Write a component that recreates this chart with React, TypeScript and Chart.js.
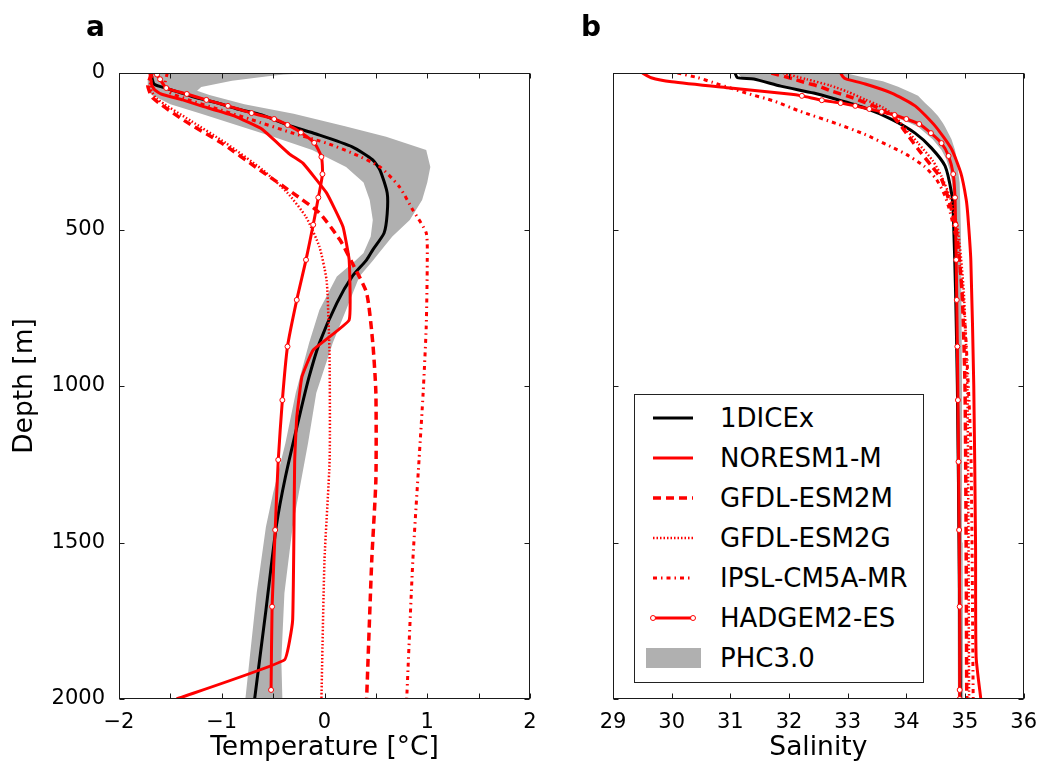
import React, { useEffect, useRef } from 'react';
import { Chart, registerables } from 'chart.js';

Chart.register(...registerables);
Chart.defaults.font.family = "'DejaVu Sans', sans-serif";
Chart.defaults.color = '#000';

// ---------------- Panel a: temperature ----------------
const TEMP_TICKS = [-2, -1, 0, 1, 2];
const TEMP_TICK_MARKS = [-2, -1.5, -1, -0.5, 0, 0.5, 1, 1.5, 2];
const DEPTH_TICKS = [0, 500, 1000, 1500, 2000];
const SAL_TICKS = [29, 30, 31, 32, 33, 34, 35, 36];

const PHC_T_DEPTH = [0, 5, 10, 25, 45, 57, 70, 100, 130, 170, 204, 246, 300, 350, 406, 470, 522, 575, 600, 650, 757, 863, 1022, 1182, 1342, 1450, 1661, 1875, 2000];
const PHC_T_MIN = [-1.7, -1.7, -1.71, -1.72, -1.72, -1.72, -1.68, -1.5, -1.2, -0.82, -0.5, -0.12, 0.21, 0.38, 0.44, 0.47, 0.45, 0.38, 0.3, 0.12, -0.05, -0.15, -0.28, -0.38, -0.5, -0.57, -0.66, -0.73, -0.77];
const PHC_T_MAX = [-0.1, -0.4, -0.55, -0.9, -1.2, -1.24, -1.12, -0.78, -0.3, 0.2, 0.6, 0.99, 1.03, 1.0, 0.95, 0.83, 0.66, 0.53, 0.47, 0.34, 0.21, 0.08, -0.08, -0.16, -0.25, -0.31, -0.39, -0.42, -0.41];

const DICE_T_DEPTH = [0, 35, 45, 57, 77, 96, 115, 134, 166, 195, 236, 278, 310, 383, 450, 511, 565, 597, 650, 735, 863, 971, 1077, 1290, 1450, 1716, 2000];
const DICE_T = [-1.69, -1.66, -1.58, -1.46, -1.27, -1.04, -0.85, -0.61, -0.36, -0.08, 0.27, 0.47, 0.54, 0.61, 0.61, 0.58, 0.47, 0.41, 0.27, 0.12, -0.05, -0.15, -0.23, -0.38, -0.47, -0.57, -0.68];

const NORESM_T_DEPTH = [0, 40, 55, 67, 86, 105, 137, 179, 259, 288, 383, 491, 597, 789, 885, 971, 1100, 1236, 1748, 1875, 2000];
const NORESM_T = [-1.7, -1.68, -1.65, -1.59, -1.38, -1.2, -0.88, -0.61, -0.34, -0.21, 0.02, 0.18, 0.24, 0.24, -0.11, -0.22, -0.27, -0.29, -0.31, -0.39, -1.44];

const ESM2M_T_DEPTH = [0, 40, 80, 153, 224, 310, 383, 447, 533, 607, 703, 863, 1022, 1300, 1556, 2000];
const ESM2M_T = [-1.68, -1.72, -1.67, -1.36, -1.0, -0.63, -0.31, -0.05, 0.15, 0.27, 0.41, 0.47, 0.5, 0.5, 0.46, 0.41];

const ESM2G_T_DEPTH = [0, 40, 80, 153, 224, 310, 383, 460, 555, 661, 800, 917, 1236, 1556, 2000];
const ESM2G_T = [-1.66, -1.7, -1.64, -1.3, -0.96, -0.6, -0.36, -0.18, -0.05, 0.02, 0.04, 0.05, 0.05, 0.0, -0.03];

const IPSL_T_DEPTH = [0, 30, 60, 85, 115, 147, 193, 224, 256, 300, 364, 438, 511, 600, 811, 1022, 1236, 1556, 2000];
const IPSL_T = [-1.53, -1.55, -1.52, -1.33, -1.04, -0.73, -0.3, 0.02, 0.27, 0.54, 0.73, 0.86, 0.99, 1.0, 0.99, 0.96, 0.92, 0.86, 0.8];

const HADGEM_T_DEPTH = [5, 20, 48, 67, 86, 105, 128, 147, 166, 190, 223, 268, 323, 398, 485, 597, 725, 874, 1045, 1236, 1460, 1705, 1971];
const HADGEM_T = [-1.63, -1.6, -1.54, -1.34, -1.15, -0.94, -0.71, -0.49, -0.36, -0.23, -0.1, -0.03, -0.02, -0.06, -0.11, -0.18, -0.27, -0.36, -0.41, -0.45, -0.48, -0.51, -0.52];

// ---------------- Panel b: salinity ----------------
const PHC_S_DEPTH = [0, 15, 26, 44, 64, 73, 96, 115, 137, 159, 172, 212, 246, 275, 310, 351, 500, 1000, 1500, 2000];
const PHC_S_MIN = [31.12, 31.2, 31.6, 31.95, 32.45, 32.6, 33.05, 33.4, 33.75, 34.05, 34.2, 34.45, 34.6, 34.68, 34.74, 34.78, 34.82, 34.85, 34.87, 34.88];
const PHC_S_MAX = [32.95, 33.3, 33.6, 33.86, 34.1, 34.2, 34.32, 34.43, 34.54, 34.62, 34.66, 34.77, 34.83, 34.86, 34.88, 34.91, 34.93, 34.95, 34.96, 34.97];

const DICE_S_DEPTH = [0, 15, 19, 42, 64, 80, 112, 148, 192, 240, 297, 383, 447, 700, 1000, 1500, 2000];
const DICE_S = [31.08, 31.12, 31.4, 31.86, 32.42, 32.73, 33.3, 33.75, 34.15, 34.43, 34.66, 34.77, 34.8, 34.84, 34.87, 34.9, 34.92];

const NORESM_S_DEPTH = [0, 12, 19, 35, 64, 105, 169, 243, 320, 403, 457, 600, 1000, 1500, 1865, 2000];
const NORESM_S = [32.88, 32.92, 32.97, 33.3, 33.75, 34.15, 34.49, 34.77, 34.93, 35.02, 35.05, 35.1, 35.15, 35.18, 35.19, 35.27];

const ESM2M_S_DEPTH = [0, 19, 32, 42, 58, 80, 110, 140, 192, 243, 297, 339, 403, 500, 700, 1000, 1500, 2000];
const ESM2M_S = [31.7, 32.08, 32.3, 32.5, 32.73, 33.1, 33.5, 33.78, 34.0, 34.2, 34.43, 34.6, 34.72, 34.85, 34.95, 35.0, 35.02, 35.03];

const ESM2G_S_DEPTH = [0, 20, 40, 60, 85, 110, 137, 170, 224, 280, 330, 400, 500, 700, 1000, 1500, 2000];
const ESM2G_S = [31.9, 32.3, 32.7, 33.0, 33.3, 33.6, 33.8, 33.95, 34.2, 34.45, 34.6, 34.75, 34.88, 34.98, 35.04, 35.06, 35.07];

const IPSL_S_DEPTH = [0, 15, 30, 48, 64, 90, 121, 163, 195, 240, 260, 297, 339, 393, 447, 550, 800, 1200, 2000];
const IPSL_S = [30.1, 30.45, 30.7, 31.0, 31.27, 31.75, 32.17, 32.83, 33.28, 33.79, 34.0, 34.3, 34.51, 34.66, 34.75, 34.87, 35.0, 35.1, 35.14];

const HADGEM_S_DEPTH = [0, 15, 28, 48, 67, 73, 87, 96, 105, 115, 124, 134, 147, 163, 192, 224, 265, 323, 398, 485, 597, 725, 874, 1045, 1242, 1460, 1705, 1971, 2000];
const HADGEM_S = [29.5, 29.65, 30.0, 31.0, 32.0, 32.22, 32.56, 32.88, 33.13, 33.37, 33.58, 33.8, 34.0, 34.22, 34.42, 34.6, 34.72, 34.8, 34.83, 34.84, 34.85, 34.86, 34.87, 34.88, 34.89, 34.9, 34.91, 34.91, 34.91];

const LABELS = ['1DICEx', 'NORESM1-M', 'GFDL-ESM2M', 'GFDL-ESM2G', 'IPSL-CM5A-MR', 'HADGEM2-ES', 'PHC3.0'];

// ---------------- styles ----------------
const RED = '#ff0000';
const GRAY = '#b0b0b0';
const STYLES: Record<string, { color: string; width: number; dash: number[] }> = {
  '1DICEx': { color: '#000000', width: 3, dash: [] },
  'NORESM1-M': { color: RED, width: 3, dash: [] },
  'GFDL-ESM2M': { color: RED, width: 3.5, dash: [8, 5] },
  'GFDL-ESM2G': { color: RED, width: 2.5, dash: [1.5, 2] },
  'IPSL-CM5A-MR': { color: RED, width: 3, dash: [4, 4, 1.5, 4] },
  'HADGEM2-ES': { color: RED, width: 3, dash: [] },
};

const pts = (vals: number[], depths: number[]) => vals.map((v, i) => ({ x: v, y: depths[i] }));
const band = (depths: number[], lo: number[], hi: number[]) => [
  ...pts(lo, depths),
  ...pts(hi, depths).reverse(),
];

const fmt = (v: number) => (v < 0 ? '\u2212' + Math.abs(v) : String(v));

const framePlugin = {
  id: 'frame',
  afterDatasetsDraw(chart: any, _args: any, opts: any) {
    const { ctx, chartArea: a, scales } = chart;
    ctx.save();
    ctx.strokeStyle = '#1a1a1a';
    ctx.lineWidth = 1;
    const L = Math.round(a.left) + 0.5;
    const R = Math.round(a.right) - 0.5;
    const T = Math.round(a.top) + 0.5;
    const B = Math.round(a.bottom) - 0.5;
    ctx.strokeRect(L, T, R - L, B - T);
    const len = 5;
    ctx.beginPath();
    for (const v of opts.xTicks || []) {
      const px = Math.round(scales.x.getPixelForValue(v)) + 0.5;
      ctx.moveTo(px, T);
      ctx.lineTo(px, T + len);
      ctx.moveTo(px, B);
      ctx.lineTo(px, B - len);
    }
    for (const v of opts.yTicks || []) {
      const py = Math.round(scales.y.getPixelForValue(v)) + 0.5;
      ctx.moveTo(L, py);
      ctx.lineTo(L + len, py);
      ctx.moveTo(R, py);
      ctx.lineTo(R - len, py);
    }
    ctx.stroke();
    ctx.restore();
  },
};

function lineDs(label: string, data: any[], order: number, extra: any = {}) {
  const s = STYLES[label];
  return {
    label,
    data,
    borderColor: s.color,
    backgroundColor: s.color,
    borderWidth: s.width,
    borderDash: s.dash,
    pointRadius: 0,
    tension: 0.2,
    fill: false,
    order,
    ...extra,
  };
}

function makeConfig(panel: 'a' | 'b') {
  const isA = panel === 'a';
  const datasets = isA
    ? [
        { label: 'PHC3.0', data: band(PHC_T_DEPTH, PHC_T_MIN, PHC_T_MAX), borderWidth: 0, borderColor: GRAY, backgroundColor: GRAY, fill: 'shape', pointRadius: 0, tension: 0, order: 20 },
        lineDs('1DICEx', pts(DICE_T, DICE_T_DEPTH), 10),
        lineDs('NORESM1-M', pts(NORESM_T, NORESM_T_DEPTH), 8, { tension: 0.1 }),
        lineDs('GFDL-ESM2M', pts(ESM2M_T, ESM2M_T_DEPTH), 7),
        lineDs('GFDL-ESM2G', pts(ESM2G_T, ESM2G_T_DEPTH), 6),
        lineDs('IPSL-CM5A-MR', pts(IPSL_T, IPSL_T_DEPTH), 5),
        lineDs('HADGEM2-ES', pts(HADGEM_T, HADGEM_T_DEPTH), 4, {
          pointRadius: 2.5, pointBackgroundColor: '#ffffff', pointBorderColor: RED, pointBorderWidth: 1,
        }),
      ]
    : [
        { label: 'PHC3.0', data: band(PHC_S_DEPTH, PHC_S_MIN, PHC_S_MAX), borderWidth: 0, borderColor: GRAY, backgroundColor: GRAY, fill: 'shape', pointRadius: 0, tension: 0, order: 20 },
        lineDs('1DICEx', pts(DICE_S, DICE_S_DEPTH), 10),
        lineDs('NORESM1-M', pts(NORESM_S, NORESM_S_DEPTH), 8),
        lineDs('GFDL-ESM2M', pts(ESM2M_S, ESM2M_S_DEPTH), 7),
        lineDs('GFDL-ESM2G', pts(ESM2G_S, ESM2G_S_DEPTH), 6),
        lineDs('IPSL-CM5A-MR', pts(IPSL_S, IPSL_S_DEPTH), 5),
        lineDs('HADGEM2-ES', pts(HADGEM_S, HADGEM_S_DEPTH), 4, {
          pointRadius: (c: any) => (HADGEM_S_DEPTH[c.dataIndex] >= 70 ? 2.5 : 0),
          pointBackgroundColor: '#ffffff', pointBorderColor: RED, pointBorderWidth: 1,
        }),
      ];

  const xTicks = isA ? TEMP_TICKS : SAL_TICKS;
  return {
    type: 'line',
    data: { datasets },
    plugins: [framePlugin],
    options: {
      animation: false,
      responsive: false,
      maintainAspectRatio: false,
      indexAxis: 'y',
      events: [],
      layout: { padding: isA ? { top: 73, right: 30, left: 0, bottom: 0 } : { top: 73, right: 14, left: 0, bottom: 0 } },
      plugins: {
        legend: { display: false },
        tooltip: { enabled: false },
        frame: { xTicks: isA ? TEMP_TICK_MARKS : SAL_TICKS, yTicks: DEPTH_TICKS },
      },
      scales: {
        x: {
          type: 'linear',
          position: 'bottom',
          min: isA ? -2 : 29,
          max: isA ? 2 : 36,
          afterBuildTicks: (s: any) => { s.ticks = xTicks.map((v) => ({ value: v })); },
          afterFit: (s: any) => { s.height = 73; },
          grid: { display: false },
          border: { display: false },
          ticks: { autoSkip: false, maxRotation: 0, minRotation: 0, padding: 3, font: { size: 21 }, color: '#000', callback: (v: any) => fmt(Number(v)) },
          title: { display: true, text: isA ? 'Temperature [°C]' : 'Salinity', font: { size: 26.5 }, color: '#000', padding: { top: 0, bottom: 8 } },
        },
        y: {
          type: 'linear',
          position: 'left',
          reverse: true,
          min: 0,
          max: 2000,
          afterBuildTicks: (s: any) => { s.ticks = DEPTH_TICKS.map((v) => ({ value: v })); },
          afterFit: (s: any) => { s.width = isA ? 119 : 53; },
          grid: { display: false },
          border: { display: false },
          ticks: { display: isA, autoSkip: false, padding: 6, font: { size: 21 }, color: '#000', callback: (v: any) => String(v) },
          title: { display: isA, text: 'Depth [m]', font: { size: 26.5 }, color: '#000', padding: { top: 9, bottom: 0 } },
        },
      },
    },
  };
}

function Panel({ panel, left, width }: { panel: 'a' | 'b'; left: number; width: number }) {
  const ref = useRef<HTMLCanvasElement | null>(null);
  useEffect(() => {
    if (!ref.current) return;
    const chart = new Chart(ref.current, makeConfig(panel) as any);
    return () => chart.destroy();
  }, [panel]);
  return (
    <canvas
      ref={ref}
      width={width}
      height={772}
      style={{ position: 'absolute', left, top: 0, width, height: 772 }}
    />
  );
}

function LegendSample({ label }: { label: string }) {
  if (label === 'PHC3.0') {
    return <svg width={60} height={24} style={{ display: 'block' }}><rect x={0} y={2} width={55} height={20} fill={GRAY} /></svg>;
  }
  const s = STYLES[label];
  return (
    <svg width={60} height={24} style={{ display: 'block' }}>
      <line x1={7} y1={12} x2={47} y2={12} stroke={s.color} strokeWidth={s.width} strokeDasharray={s.dash.length ? s.dash.join(' ') : undefined} />
      {label === 'HADGEM2-ES' && (
        <>
          <circle cx={7} cy={12} r={2.5} fill="#fff" stroke={RED} strokeWidth={1} />
          <circle cx={47} cy={12} r={2.5} fill="#fff" stroke={RED} strokeWidth={1} />
        </>
      )}
    </svg>
  );
}

export default function App() {
  const font = "'DejaVu Sans', sans-serif";
  return (
    <div style={{ position: 'absolute', left: 0, top: 0, width: 1040, height: 772, overflow: 'hidden', background: '#fff', fontFamily: font }}>
      <Panel panel="a" left={0} width={560} />
      <Panel panel="b" left={560} width={480} />
      <div style={{ position: 'absolute', left: 86, top: 10, fontSize: 28, fontWeight: 'bold', lineHeight: '34px' }}>a</div>
      <div style={{ position: 'absolute', left: 581, top: 10, fontSize: 28, fontWeight: 'bold', lineHeight: '34px' }}>b</div>
      <div style={{ position: 'absolute', left: 634, top: 394, width: 288, height: 287, border: '1px solid #222', background: '#fff' }}>
        {LABELS.map((lab, i) => (
          <div key={lab} style={{ position: 'absolute', left: 0, top: 11 + i * 40, height: 24, width: 288 }}>
            <div style={{ position: 'absolute', left: 11, top: 0 }}><LegendSample label={lab} /></div>
            <div style={{ position: 'absolute', left: 85, top: -3, fontSize: 26, lineHeight: '30px', whiteSpace: 'nowrap', color: '#000' }}>{lab}</div>
          </div>
        ))}
      </div>
    </div>
  );
}
